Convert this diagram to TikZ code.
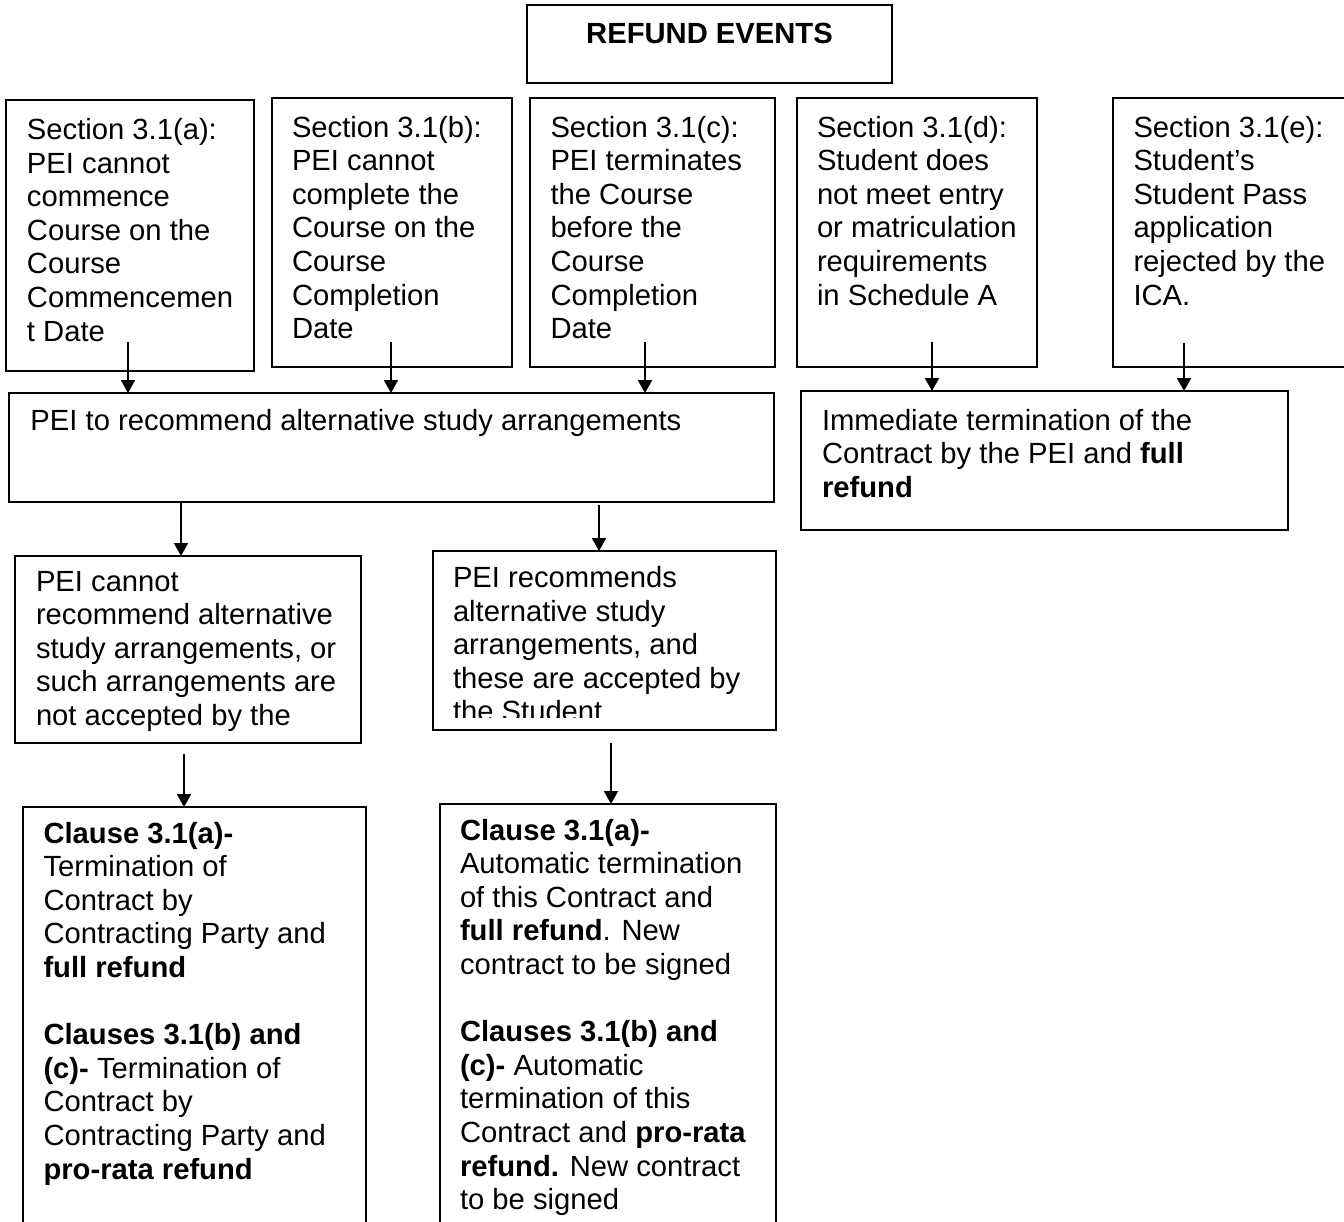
\documentclass[tikz,border=0pt]{standalone}
\usepackage{fontspec}
\setmainfont{Liberation Sans}
\usetikzlibrary{arrows.meta}
\tikzset{
  box/.style={draw=black, line width=1.5pt, inner sep=0pt, outer sep=0pt, anchor=north west},
  txt/.style={inner sep=0pt, outer sep=0pt, anchor=base west, font=\fontsize{29.2}{33.6}\selectfont},
  arr/.style={-{Triangle[length=13pt,width=14pt]}, line width=2pt},
}
\newcommand{\lines}[1]{\parbox[t]{560pt}{\raggedright #1}}
\begin{document}
\begin{tikzpicture}[x=1pt,y=-1pt]
\useasboundingbox (0,0) rectangle (1344,1221);
\clip (0,0) rectangle (1344,1221);

% boxes
\node[box, minimum width=365pt, minimum height=78pt] (top) at (527,5) {};
\node[box, minimum width=248pt, minimum height=271pt] (ba) at (6,100) {};
\node[box, minimum width=240pt, minimum height=269pt] (bb) at (272,98) {};
\node[box, minimum width=245pt, minimum height=269pt] (bc) at (530,98) {};
\node[box, minimum width=240pt, minimum height=269pt] (bd) at (797,98) {};
\node[box, minimum width=247pt, minimum height=269pt] (be) at (1113,98) {};
\node[box, minimum width=765pt, minimum height=109pt] (big) at (9,393) {};
\node[box, minimum width=487pt, minimum height=139pt] (imm) at (801,391) {};
\node[box, minimum width=346pt, minimum height=187pt] (mL) at (15,556) {};
\node[box, minimum width=343pt, minimum height=179pt] (mR) at (433,551) {};
\node[box, minimum width=343pt, minimum height=433pt] (cL) at (23,807) {};
\node[box, minimum width=336pt, minimum height=436pt] (cR) at (440,804) {};

% texts
\node[txt, anchor=base] (ttop) at (709.5,43.5) {\textbf{REFUND EVENTS}};
\node[txt] (ta) at (27,139.5) {\lines{Section 3.1(a):\\PEI cannot\\commence\\Course on the\\Course\\Commencemen\\t Date}};
\node[txt] (tb) at (292,137) {\lines{Section 3.1(b):\\PEI cannot\\complete the\\Course on the\\Course\\Completion\\Date}};
\node[txt] (tc) at (550.5,137) {\lines{Section 3.1(c):\\PEI terminates\\the Course\\before the\\Course\\Completion\\Date}};
\node[txt] (td) at (817,137) {\lines{Section 3.1(d):\\Student does\\not meet entry\\or matriculation\\requirements\\in Schedule A}};
\node[txt] (te) at (1133.5,137) {\lines{Section 3.1(e):\\Student’s\\Student Pass\\application\\rejected by the\\ICA.}};
\node[txt] (tbig) at (30.5,430) {PEI to recommend alternative study arrangements};
\node[txt] (timm) at (822,430) {\lines{Immediate termination of the\\Contract by the PEI and \textbf{full}\\\textbf{refund}}};
\node[txt] (tmL) at (36,591) {\lines{PEI cannot\\recommend alternative\\study arrangements, or\\such arrangements are\\not accepted by the}};
\begin{scope}
\clip (433,551) rectangle (776,717.5);
\node[txt] (tmR) at (453,587.5) {\lines{PEI recommends\\alternative study\\arrangements, and\\these are accepted by\\the Student}};
\end{scope}
\node[txt] (tcL) at (43.5,843) {\lines{\textbf{Clause 3.1(a)-}\\Termination of\\Contract by\\Contracting Party and\\\textbf{full refund}\\[33.6pt]\textbf{Clauses 3.1(b) and}\\\textbf{(c)-} Termination of\\Contract by\\Contracting Party and\\\textbf{pro-rata refund}}};
\node[txt] (tcR) at (460,840) {\lines{\textbf{Clause 3.1(a)-}\\Automatic termination\\of this Contract and\\\textbf{full refund}. New\\contract to be signed\\[33.6pt]\textbf{Clauses 3.1(b) and}\\\textbf{(c)-} Automatic\\termination of this\\Contract and \textbf{pro-rata}\\\textbf{refund.} New contract\\to be signed}};

% arrow start points
\coordinate (sa) at (128,342);
\coordinate (sb) at (391,342);
\coordinate (sc) at (645,342);
\coordinate (sd) at (932,342);
\coordinate (se) at (1184,343);
\coordinate (sbl) at (181,503);
\coordinate (sbr) at (599,505);
\coordinate (sml) at (184,754);
\coordinate (smr) at (611,743);

% connectors
\draw[arr] (sa) -- (sa |- big.north);
\draw[arr] (sb) -- (sb |- big.north);
\draw[arr] (sc) -- (sc |- big.north);
\draw[arr] (sd) -- (sd |- imm.north);
\draw[arr] (se) -- (se |- imm.north);
\draw[arr] (sbl) -- (sbl |- mL.north);
\draw[arr] (sbr) -- (sbr |- mR.north);
\draw[arr] (sml) -- (sml |- cL.north);
\draw[arr] (smr) -- (smr |- cR.north);
\end{tikzpicture}
\end{document}
